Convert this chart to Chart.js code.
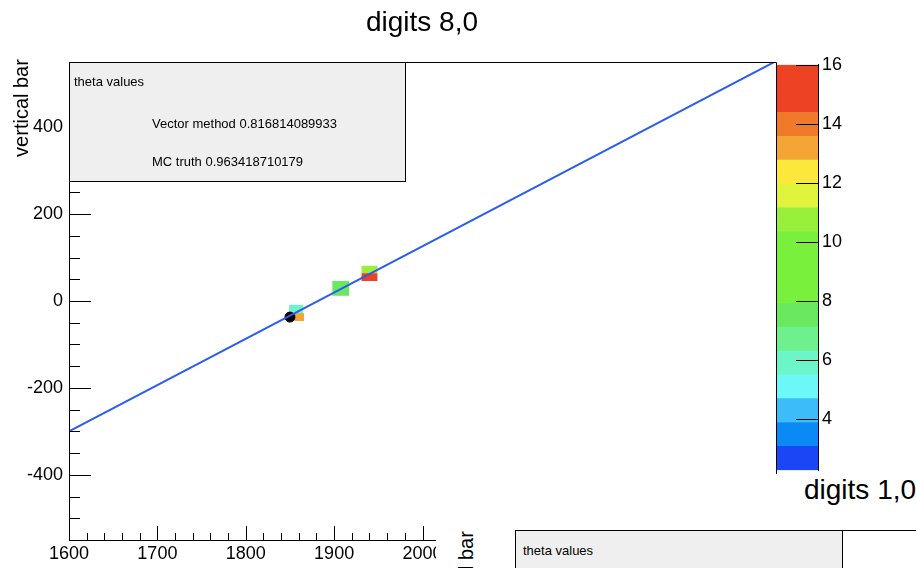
<!DOCTYPE html>
<html>
<head>
<meta charset="utf-8">
<script src="https://cdn.jsdelivr.net/npm/chart.js@4.4.1/dist/chart.umd.min.js"></script>
<style>
  html, body { margin: 0; padding: 0; background: #fff; overflow: hidden; }
  body { width: 916px; height: 568px; position: relative; color: #000;
         font-family: "Liberation Sans", Arial, Helvetica, sans-serif; }
  canvas { position: absolute; }
  #main { left: 0; top: 0; }
  #pal { left: 776px; top: 50px; }
  .txt { position: absolute; white-space: nowrap; line-height: 1; }
  .box { position: absolute; background: #efefef; border: 1px solid #000; box-sizing: border-box; }
  .small { font-size: 13px; }
  .title { font-size: 28px; }
  .axtitle { font-size: 20px; transform: translate(-50%, -50%) rotate(-90deg); }
  #pad2 { position: absolute; left: 436px; top: 474px; width: 480px; height: 94px; background: #fff; }
</style>
</head>
<body>
<canvas id="main" width="916" height="568"></canvas>
<canvas id="pal" width="140" height="435"></canvas>

<div class="txt title" style="left:422px; top:8px; transform:translateX(-50%);">digits 8,0</div>
<div class="txt axtitle" style="left:21px; top:108px;">vertical bar</div>

<div class="box" style="left:69px; top:62px; width:337px; height:120px;"></div>
<div class="txt small" style="left:74px; top:75px;">theta values</div>
<div class="txt small" style="left:152px; top:117px;">Vector method 0.816814089933</div>
<div class="txt small" style="left:152px; top:155px;">MC truth 0.963418710179</div>

<!-- second pad, lower right -->
<div id="pad2"></div>
<div class="txt title" style="left:804px; top:476px;">digits 1,0</div>
<div class="txt axtitle" style="left:466px; top:580px;">vertical bar</div>
<div class="box" style="left:515px; top:530px; width:328px; height:60px;"></div>
<div style="position:absolute; left:842px; top:530px; width:74px; border-top:1px solid #000;"></div>
<div class="txt small" style="left:523px; top:544px;">theta values</div>

<script>
// axes
const xTicks = [1600, 1700, 1800, 1900, 2000, 2100, 2200, 2300, 2400];
const yTicks = [-400, -200, 0, 200, 400];
const zTicks = [4, 6, 8, 10, 12, 14, 16];

// fitted track (vector method) and the true hit
const fitLine = [{ x: 1600, y: -300 }, { x: 2400, y: 552 }];
const truthPoint = [{ x: 1850, y: -37 }];

// digit cells: bin edges + charge
const cells = [
  { x0: 1849, x1: 1865, y0: -46, y1: -9, z: 5.9 },
  { x0: 1855, x1: 1866, y0: -46, y1: -28, z: 13.2 },
  { x0: 1898, x1: 1917, y0: 12, y1: 46, z: 7.5 },
  { x0: 1931, x1: 1949, y0: 64, y1: 81, z: 10.8 },
  { x0: 1931, x1: 1949, y0: 46, y1: 64, z: 15.5 },
];

// colour palette, low -> high
const zMin = 2.27, zMax = 16;
const paletteColors = [
  "#1a46f5", "#0a8af5", "#3cbcf8", "#6cf8f8", "#6cf5c8", "#6ef08c",
  "#6ae860", "#78f03c", "#78f03c", "#78f03c", "#98f03a", "#e0f43e",
  "#fce83a", "#f5a534", "#f07a2a", "#ee4224", "#ee4224",
];

(function () {
  "use strict";

  const $ = (s) => document.querySelector(s);
  const FONT = { family: '"Liberation Sans", Arial, sans-serif', size: 18 };
  const plain = (v) => String(v); // no thousands separator
  const nLev = paletteColors.length;
  const lvl = (i) => zMin + (i * (zMax - zMin)) / nLev;
  const zColor = (z) => {
    let i = Math.floor(((z - zMin) / (zMax - zMin)) * nLev);
    return paletteColors[Math.max(0, Math.min(nLev - 1, i))];
  };
  const crisp = (v) => Math.round(v) + 0.5;

  // cells under the track, then frame + inward ticks
  const framePlugin = {
    id: "frame",
    beforeDatasetsDraw(c) {
      const { ctx, scales: { x, y } } = c;
      ctx.save();
      cells.forEach((cell) => {
        const l = x.getPixelForValue(cell.x0), r = x.getPixelForValue(cell.x1);
        const t = y.getPixelForValue(cell.y1), b = y.getPixelForValue(cell.y0);
        ctx.fillStyle = zColor(cell.z);
        ctx.fillRect(l, t, r - l, b - t);
      });
      ctx.restore();
    },
    afterDatasetsDraw(c) {
      const { ctx, chartArea: a, scales: { x, y } } = c;
      ctx.save();
      ctx.strokeStyle = "#000";
      ctx.lineWidth = 1;
      ctx.beginPath();
      ctx.moveTo(crisp(a.left), crisp(a.bottom));
      ctx.lineTo(crisp(a.left), crisp(a.top));
      ctx.lineTo(crisp(a.right), crisp(a.top));
      ctx.lineTo(crisp(a.right), crisp(a.bottom));
      ctx.moveTo(crisp(a.left), crisp(a.bottom));
      ctx.lineTo(crisp(a.right), crisp(a.bottom));
      // y: major every 200, minor every 50
      for (let v = Math.ceil(y.min / 50) * 50; v <= y.max; v += 50) {
        const len = v % 200 === 0 ? 22 : 11;
        const py = crisp(y.getPixelForValue(v));
        ctx.moveTo(a.left, py);
        ctx.lineTo(a.left + len, py);
      }
      // x: major every 100, minor every 20
      for (let v = x.min; v <= x.max; v += 20) {
        const len = v % 100 === 0 ? 14 : 7;
        const px = crisp(x.getPixelForValue(v));
        ctx.moveTo(px, a.bottom);
        ctx.lineTo(px, a.bottom - len);
      }
      ctx.stroke();
      ctx.restore();
    },
  };

  new Chart($("#main"), {
    type: "scatter",
    data: {
      datasets: [
        {
          type: "line", data: fitLine, borderColor: "#2a5cf0", borderWidth: 2,
          pointRadius: 0, fill: false, tension: 0,
        },
        {
          data: truthPoint, backgroundColor: "#000", borderColor: "#000",
          pointRadius: 5, pointStyle: "circle",
        },
      ],
    },
    options: {
      responsive: false, animation: false, events: [],
      plugins: { legend: { display: false }, tooltip: { enabled: false } },
      layout: { padding: { left: 0, top: 62, right: 140, bottom: 0 } },
      scales: {
        x: {
          type: "linear", min: 1600, max: 2400,
          grid: { display: false, drawTicks: false }, border: { display: false },
          afterBuildTicks: (s) => { s.ticks = xTicks.map((v) => ({ value: v })); },
          afterFit: (s) => { s.height = 28; },
          ticks: { font: FONT, color: "#000", padding: 3, maxRotation: 0, autoSkip: false, callback: plain },
        },
        y: {
          type: "linear", min: -550, max: 550,
          grid: { display: false, drawTicks: false }, border: { display: false },
          afterBuildTicks: (s) => { s.ticks = yTicks.map((v) => ({ value: v })); },
          afterFit: (s) => { s.width = 69; },
          ticks: { font: FONT, color: "#000", padding: 6, autoSkip: false, callback: plain },
        },
      },
    },
    plugins: [framePlugin],
  });

  // colour scale: ticks point inwards from the right edge
  const palTicks = {
    id: "palTicks",
    afterDatasetsDraw(c) {
      const { ctx, chartArea: a, scales: { y } } = c;
      ctx.save();
      ctx.strokeStyle = "#000";
      ctx.lineWidth = 1;
      ctx.beginPath();
      zTicks.forEach((v) => {
        const py = crisp(y.getPixelForValue(v));
        ctx.moveTo(a.right, py);
        ctx.lineTo(a.right - 22, py);
      });
      ctx.stroke();
      ctx.restore();
    },
  };

  new Chart($("#pal"), {
    type: "bar",
    data: {
      labels: ["z"],
      datasets: paletteColors.map((col, i) => ({
        data: [[lvl(i), lvl(i + 1)]], backgroundColor: col, borderWidth: 0,
        barPercentage: 1, categoryPercentage: 1,
      })),
    },
    options: {
      responsive: false, animation: false, events: [],
      plugins: { legend: { display: false }, tooltip: { enabled: false } },
      layout: { padding: { top: 13, bottom: 12, left: 1, right: 0 } },
      scales: {
        x: { display: false, stacked: true },
        y: {
          position: "right", min: zMin, max: zMax,
          grid: { display: false, drawTicks: false },
          border: { display: true, color: "#000", width: 1 },
          afterBuildTicks: (s) => { s.ticks = zTicks.map((v) => ({ value: v })); },
          afterFit: (s) => { s.width = 98; },
          ticks: { font: FONT, color: "#000", padding: 4, autoSkip: false, callback: plain },
        },
      },
    },
    plugins: [palTicks],
  });
})();
</script>
</body>
</html>
